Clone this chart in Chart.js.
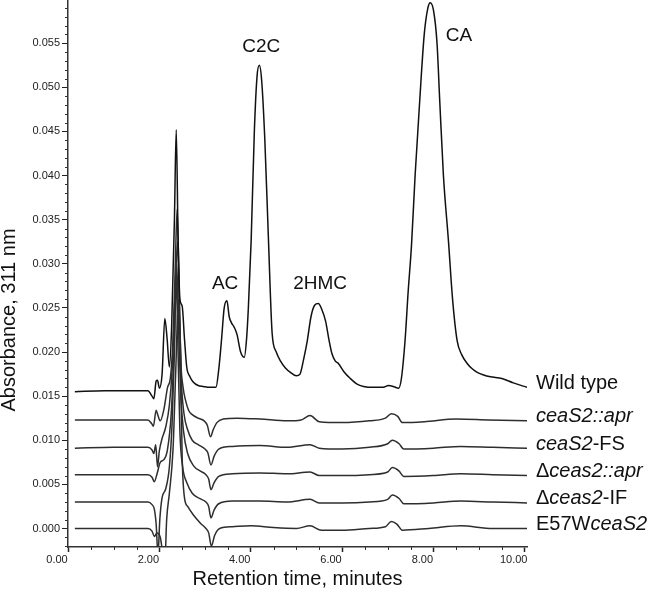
<!DOCTYPE html>
<html>
<head>
<meta charset="utf-8">
<script src="https://cdn.jsdelivr.net/npm/chart.js@4.4.1/dist/chart.umd.min.js"></script>
<style>
  html, body { margin: 0; padding: 0; background: #fff; }
</style>
</head>
<body>
<canvas id="chromChart" width="650" height="595"></canvas>
<script>
// Trace names (drawn at the right end of each trace) - [text, italic] parts
const traceLabels = [
    [['Wild type', false]],
    [['ceaS2::apr', true]],
    [['ceaS2', true], ['-FS', false]],
    [['\u0394', false], ['ceas2::apr', true]],
    [['\u0394', false], ['ceas2', true], ['-IF', false]],
    [['E57W', false], ['ceaS2', true]]
];

// Chromatograms: [retention time (min), absorbance at 311 nm]
const wildType = [
    [0.15, 0.0155], [0.8, 0.0156], [1.5, 0.0156], [1.75, 0.0156], [1.84, 0.0150], [1.88, 0.0147],
    [1.93, 0.0167], [1.96, 0.0168], [2.0, 0.0159], [2.06, 0.0175], [2.12, 0.0238], [2.17, 0.0215],
    [2.22, 0.0183], [2.27, 0.0230], [2.33, 0.0350], [2.37, 0.0452], [2.41, 0.0330], [2.45, 0.0260],
    [2.50, 0.0252], [2.55, 0.0215], [2.60, 0.0183], [2.67, 0.0172], [2.74, 0.0166], [2.85, 0.0162],
    [2.96, 0.0161], [3.1, 0.0160], [3.24, 0.0160], [3.30, 0.0180], [3.36, 0.0213], [3.42, 0.0250],
    [3.48, 0.0258], [3.53, 0.0240], [3.58, 0.0233], [3.64, 0.0228], [3.70, 0.0220], [3.78, 0.0200],
    [3.86, 0.0194], [3.91, 0.0215], [3.95, 0.0251], [4.01, 0.0326], [4.08, 0.0450], [4.14, 0.0513],
    [4.19, 0.0525], [4.24, 0.0508], [4.31, 0.0440], [4.39, 0.0326], [4.47, 0.0221], [4.56, 0.0200],
    [4.65, 0.0190], [4.76, 0.0182], [4.87, 0.0177], [5.0, 0.0173], [5.08, 0.0175], [5.16, 0.0192],
    [5.24, 0.0213], [5.32, 0.0240], [5.40, 0.0253], [5.48, 0.0255], [5.56, 0.0248], [5.64, 0.0235],
    [5.71, 0.0215], [5.78, 0.0198], [5.85, 0.0190], [5.92, 0.0187], [6.05, 0.0177], [6.18, 0.0170],
    [6.32, 0.0164], [6.47, 0.0161], [6.7, 0.0160], [6.9, 0.0160], [7.02, 0.0162], [7.12, 0.0161],
    [7.24, 0.0159], [7.30, 0.0170], [7.38, 0.0213], [7.45, 0.0270], [7.52, 0.0320], [7.60, 0.0400],
    [7.70, 0.0484], [7.80, 0.0560], [7.88, 0.0590], [7.93, 0.0596], [8.00, 0.0588], [8.08, 0.0550],
    [8.14, 0.0484], [8.22, 0.0400], [8.33, 0.0326], [8.42, 0.0260], [8.52, 0.0213], [8.62, 0.0197],
    [8.74, 0.0187], [8.85, 0.0181], [8.96, 0.0177], [9.1, 0.0174], [9.25, 0.0172], [9.5, 0.0170],
    [9.75, 0.0165], [10.05, 0.0160]
];
const ceaS2Apr = [
    [0.15, 0.0123], [1.0, 0.0123], [1.75, 0.0123], [1.83, 0.0119], [1.87, 0.0116], [1.93, 0.0134],
    [1.97, 0.0128], [2.02, 0.0122], [2.10, 0.0135], [2.18, 0.0160], [2.24, 0.0170], [2.30, 0.0215],
    [2.35, 0.0300], [2.39, 0.0362], [2.43, 0.0280], [2.47, 0.0190], [2.52, 0.0160], [2.57, 0.0146],
    [2.64, 0.0134], [2.72, 0.0129], [2.85, 0.0125], [2.98, 0.0122], [3.05, 0.0117], [3.12, 0.0104],
    [3.18, 0.0112], [3.26, 0.0120], [3.40, 0.0124], [3.7, 0.0125], [4.2, 0.0124], [4.8, 0.0122],
    [5.1, 0.0123], [5.3, 0.0128], [5.5, 0.0121], [6.0, 0.0120], [6.6, 0.0122], [6.95, 0.0125],
    [7.08, 0.0130], [7.22, 0.0127], [7.32, 0.0120], [7.8, 0.0121], [8.5, 0.0124], [9.2, 0.0123],
    [10.05, 0.0122]
];
const ceaS2FS = [
    [0.15, 0.0091], [1.0, 0.0092], [1.75, 0.0092], [1.84, 0.0089], [1.88, 0.0085], [1.92, 0.0095],
    [1.96, 0.0070], [2.00, 0.0088], [2.06, 0.0102], [2.14, 0.0115], [2.22, 0.0140], [2.28, 0.0180],
    [2.34, 0.0260], [2.40, 0.0325], [2.44, 0.0250], [2.48, 0.0170], [2.54, 0.0130], [2.62, 0.0112],
    [2.72, 0.0100], [2.85, 0.0095], [3.0, 0.0090], [3.06, 0.0086], [3.13, 0.0072], [3.20, 0.0082],
    [3.30, 0.0090], [3.6, 0.0093], [4.2, 0.0094], [4.8, 0.0092], [5.3, 0.0095], [5.5, 0.0091],
    [6.0, 0.0090], [6.6, 0.0092], [7.0, 0.0096], [7.1, 0.0100], [7.25, 0.0096], [7.35, 0.0090],
    [8.0, 0.0091], [8.6, 0.0093], [9.3, 0.0092], [10.05, 0.0091]
];
const dCeas2Apr = [
    [0.15, 0.0061], [1.0, 0.0061], [1.75, 0.0061], [1.84, 0.0058], [1.89, 0.0053], [1.95, 0.0062],
    [2.02, 0.0075], [2.10, 0.0078], [2.18, 0.0090], [2.26, 0.0130], [2.32, 0.0200], [2.38, 0.0300],
    [2.42, 0.0230], [2.47, 0.0150], [2.53, 0.0110], [2.62, 0.0085], [2.75, 0.0071], [2.9, 0.0065],
    [3.02, 0.0061], [3.08, 0.0056], [3.13, 0.0044], [3.20, 0.0052], [3.30, 0.0059], [3.6, 0.0062],
    [4.2, 0.0063], [4.8, 0.0062], [5.3, 0.0064], [5.5, 0.0060], [6.0, 0.0060], [6.6, 0.0061],
    [7.0, 0.0064], [7.1, 0.0069], [7.25, 0.0065], [7.35, 0.0059], [8.0, 0.0060], [8.6, 0.0062],
    [9.3, 0.0061], [10.05, 0.0060]
];
const dCeas2IF = [
    [0.15, 0.0030], [1.0, 0.0030], [1.75, 0.0030], [1.84, 0.0027], [1.89, 0.0022], [1.93, 0.0005],
    [1.97, -0.0030], [2.01, 0.0010], [2.06, 0.0035], [2.14, 0.0045], [2.22, 0.0070], [2.28, 0.0120],
    [2.33, 0.0200], [2.37, 0.0285], [2.41, 0.0200], [2.45, 0.0110], [2.51, 0.0070], [2.60, 0.0052],
    [2.72, 0.0040], [2.88, 0.0034], [3.02, 0.0030], [3.08, 0.0025], [3.13, 0.0012], [3.20, 0.0021],
    [3.30, 0.0028], [3.6, 0.0031], [4.2, 0.0031], [4.8, 0.0030], [5.3, 0.0033], [5.5, 0.0029],
    [6.0, 0.0029], [6.6, 0.0030], [7.0, 0.0033], [7.1, 0.0038], [7.25, 0.0034], [7.35, 0.0028],
    [8.0, 0.0029], [8.6, 0.0031], [9.3, 0.0030], [10.05, 0.0029]
];
const e57wCeaS2 = [
    [0.15, 0.0000], [1.0, 0.0000], [1.75, 0.0000], [1.84, -0.0003], [1.89, -0.0009], [1.95, -0.0005],
    [2.02, -0.0010], [2.08, -0.0030], [2.12, -0.0040], [2.16, 0.0010], [2.22, 0.0040], [2.30, 0.0090],
    [2.36, 0.0180], [2.42, 0.0260], [2.46, 0.0200], [2.50, 0.0080], [2.55, 0.0035], [2.62, 0.0025],
    [2.75, 0.0015], [2.9, 0.0006], [3.02, 0.0000], [3.08, -0.0005], [3.14, -0.0020], [3.21, -0.0008],
    [3.32, 0.0000], [3.6, 0.0002], [4.0, 0.0003], [4.5, 0.0001], [5.0, 0.0000], [5.3, 0.0003],
    [5.55, -0.0002], [6.0, -0.0002], [6.6, 0.0000], [6.95, 0.0002], [7.08, 0.0008], [7.2, 0.0005],
    [7.32, -0.0002], [7.9, 0.0000], [8.6, 0.0003], [9.3, 0.0000], [10.05, 0.0000]
];
const traces = [wildType, ceaS2Apr, ceaS2FS, dCeas2Apr, dCeas2IF, e57wCeaS2];

// Peak annotations on the wild type trace
const peakNames = ['AC', 'C2C', '2HMC', 'CA'];
const peakTimes = [3.44, 4.23, 5.52, 8.56];
const peakAbs = [0.0277, 0.0546, 0.0277, 0.0558];

// Axis ticks
const xTicks = [0, 2, 4, 6, 8, 10];
const yTicks = [0, 0.005, 0.010, 0.015, 0.020, 0.025, 0.030, 0.035, 0.040, 0.045, 0.050, 0.055];

const FONT = '"Liberation Sans", Arial, Helvetica, sans-serif';

// Minor ticks, y title, peak labels and trace names
const annotate = {
    id: 'annotate',
    afterDraw(chart) {
        const { ctx, chartArea } = chart;
        const xs = chart.scales.x, ys = chart.scales.y;
        ctx.save();

        // minor ticks
        ctx.strokeStyle = '#333';
        ctx.lineWidth = 1;
        ctx.beginPath();
        for (let i = -2; i <= 59; i++) {
            if (i % 5 === 0) continue;
            const py = Math.round(ys.getPixelForValue(i / 1000)) + 0.5;
            ctx.moveTo(chartArea.left - 3, py);
            ctx.lineTo(chartArea.left, py);
        }
        for (let i = 1; i <= 20; i++) {
            if (i % 4 === 0) continue;
            const px = Math.round(xs.getPixelForValue(i / 2)) + 0.5;
            ctx.moveTo(px, chartArea.bottom);
            ctx.lineTo(px, chartArea.bottom + 3);
        }
        ctx.stroke();

        // y axis title
        ctx.fillStyle = '#111';
        ctx.font = '20px ' + FONT;
        ctx.textAlign = 'center';
        ctx.textBaseline = 'middle';
        ctx.save();
        ctx.translate(9, 320);
        ctx.rotate(-Math.PI / 2);
        ctx.fillText('Absorbance, 311 nm', 0, 0);
        ctx.restore();

        // peak labels
        ctx.font = '19px ' + FONT;
        peakNames.forEach((name, i) => {
            ctx.fillText(name, xs.getPixelForValue(peakTimes[i]), ys.getPixelForValue(peakAbs[i]));
        });

        // trace names at the end of each trace
        ctx.textAlign = 'left';
        traceLabels.forEach((parts, i) => {
            const last = chart.getDatasetMeta(i).data.at(-1);
            let px = chartArea.right + 9;
            const py = last.y - 4;
            parts.forEach(([text, italic]) => {
                ctx.font = (italic ? 'italic ' : '') + '20px ' + FONT;
                ctx.fillText(text, px, py);
                px += ctx.measureText(text).width;
            });
        });
        ctx.restore();
    }
};

const ctx = document.getElementById('chromChart').getContext('2d');

new Chart(ctx, {
    type: 'line',
    data: {
        datasets: traces.map((tr, i) => ({
            label: traceLabels[i].map(p => p[0]).join(''),
            data: tr.map(([t, a]) => ({ x: t, y: a })),
            borderColor: i === 0 ? '#111' : '#2e2e2e',
            borderWidth: 1.5,
            pointRadius: 0,
            cubicInterpolationMode: 'monotone',
            fill: false
        }))
    },
    options: {
        responsive: false,
        animation: false,
        layout: { padding: { top: 0, right: 123, bottom: 0, left: 0 } },
        scales: {
            x: {
                type: 'linear',
                min: 0,
                max: 10.05,
                afterBuildTicks: (scale) => { scale.ticks = xTicks.map(v => ({ value: v })); },
                afterFit: (scale) => {
                    scale.height = 48;
                    scale.paddingLeft = 0;
                    scale.paddingRight = 0;
                },
                ticks: {
                    callback: (v) => Number(v).toFixed(2),
                    font: { family: FONT, size: 11 },
                    color: '#222',
                    padding: 1,
                    labelOffset: -11,
                    maxRotation: 0
                },
                grid: { drawOnChartArea: false, tickLength: 5, tickColor: '#222', tickWidth: 1.5 },
                border: { display: true, color: '#333', width: 1.5 },
                title: {
                    display: true,
                    text: 'Retention time, minutes',
                    font: { family: FONT, size: 20 },
                    color: '#111',
                    padding: { top: 0, bottom: 4 }
                }
            },
            y: {
                min: -0.0021,
                max: 0.0599,
                afterBuildTicks: (scale) => { scale.ticks = yTicks.map(v => ({ value: v })); },
                afterFit: (scale) => {
                    scale.width = 68;
                    scale.paddingTop = 0;
                    scale.paddingBottom = 0;
                },
                ticks: {
                    callback: (v) => Number(v).toFixed(3),
                    font: { family: FONT, size: 11 },
                    color: '#222',
                    padding: 2
                },
                grid: { drawOnChartArea: false, tickLength: 6, tickColor: '#222', tickWidth: 1 },
                border: { display: true, color: '#333', width: 1.5 }
            }
        },
        plugins: {
            legend: { display: false },
            tooltip: { enabled: false }
        }
    },
    plugins: [annotate]
});
</script>
</body>
</html>
